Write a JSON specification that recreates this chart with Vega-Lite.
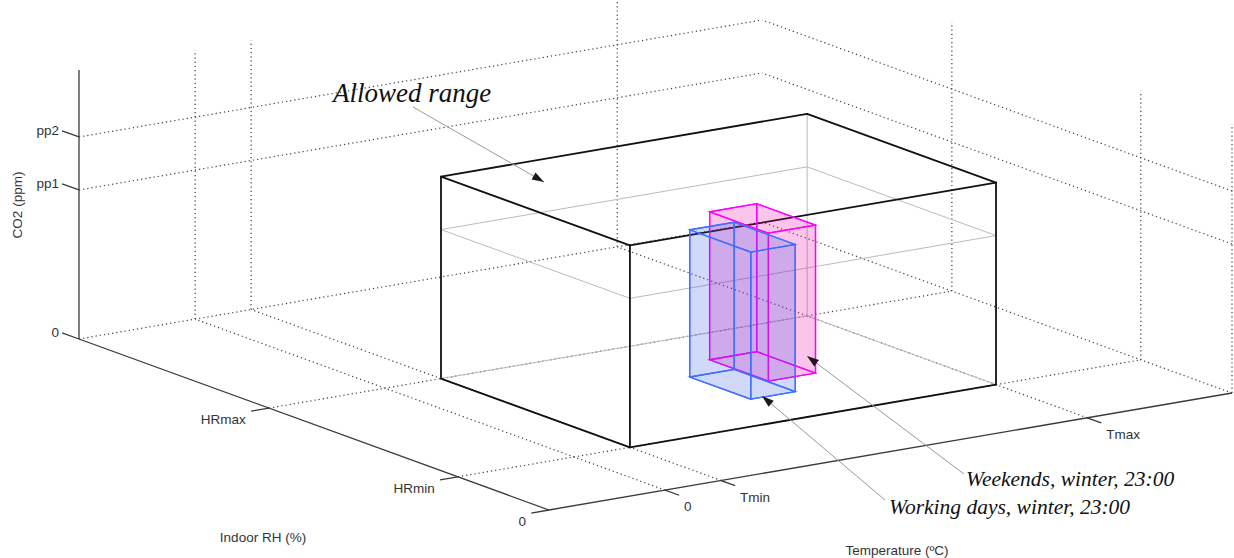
{
  "$schema": "https://vega.github.io/schema/vega-lite/v6.json",
  "width": 1234,
  "height": 558,
  "padding": 0,
  "autosize": {"type": "none"},
  "background": "white",
  "view": {"stroke": null},
  "datasets": {
    "segments": [
      {"k":"grid","t1":0.17,"r1":1,"z1":0,"t2":0.17,"r2":1,"z2":1},
      {"k":"grid","t1":0.252,"r1":1,"z1":0,"t2":0.252,"r2":1,"z2":1},
      {"k":"grid","t1":0.788,"r1":1,"z1":0,"t2":0.788,"r2":1,"z2":1},
      {"k":"grid","t1":0,"r1":1,"z1":0,"t2":1,"r2":1,"z2":0},
      {"k":"grid","t1":0,"r1":1,"z1":0.554,"t2":1,"r2":1,"z2":0.554},
      {"k":"grid","t1":0,"r1":1,"z1":0.751,"t2":1,"r2":1,"z2":0.751},
      {"k":"grid","t1":1,"r1":0,"z1":0,"t2":1,"r2":0,"z2":1},
      {"k":"grid","t1":1,"r1":0.194,"z1":0,"t2":1,"r2":0.194,"z2":1},
      {"k":"grid","t1":1,"r1":0.596,"z1":0,"t2":1,"r2":0.596,"z2":1},
      {"k":"grid","t1":1,"r1":0,"z1":0,"t2":1,"r2":1,"z2":0},
      {"k":"grid","t1":1,"r1":0,"z1":0.554,"t2":1,"r2":1,"z2":0.554},
      {"k":"grid","t1":1,"r1":0,"z1":0.751,"t2":1,"r2":1,"z2":0.751},
      {"k":"grid","t1":0.17,"r1":0,"z1":0,"t2":0.17,"r2":1,"z2":0},
      {"k":"grid","t1":0.252,"r1":0,"z1":0,"t2":0.252,"r2":1,"z2":0},
      {"k":"grid","t1":0.788,"r1":0,"z1":0,"t2":0.788,"r2":1,"z2":0},
      {"k":"grid","t1":0,"r1":0.194,"z1":0,"t2":1,"r2":0.194,"z2":0},
      {"k":"grid","t1":0,"r1":0.596,"z1":0,"t2":1,"r2":0.596,"z2":0},
      {"k":"axis","t1":0,"r1":1,"z1":0,"t2":0,"r2":1,"z2":1},
      {"k":"axis","t1":0,"r1":0,"z1":0,"t2":0,"r2":1,"z2":0},
      {"k":"axis","t1":0,"r1":0,"z1":0,"t2":1,"r2":0,"z2":0},
      {"k":"axis","t1":0,"r1":1,"z1":0,"t2":0,"r2":1.036,"z2":0},
      {"k":"axis","t1":0,"r1":1,"z1":0.554,"t2":0,"r2":1.036,"z2":0.554},
      {"k":"axis","t1":0,"r1":1,"z1":0.751,"t2":0,"r2":1.036,"z2":0.751},
      {"k":"axis","t1":0,"r1":0,"z1":0,"t2":-0.026,"r2":0,"z2":0},
      {"k":"axis","t1":0,"r1":0.194,"z1":0,"t2":-0.026,"r2":0.194,"z2":0},
      {"k":"axis","t1":0,"r1":0.596,"z1":0,"t2":-0.026,"r2":0.596,"z2":0},
      {"k":"axis","t1":0.17,"r1":0,"z1":0,"t2":0.17,"r2":-0.03,"z2":0},
      {"k":"axis","t1":0.252,"r1":0,"z1":0,"t2":0.252,"r2":-0.03,"z2":0},
      {"k":"axis","t1":0.788,"r1":0,"z1":0,"t2":0.788,"r2":-0.03,"z2":0},
      {"k":"hidden","t1":0.788,"r1":0.596,"z1":0,"t2":0.788,"r2":0.596,"z2":0.751},
      {"k":"hidden","t1":0.252,"r1":0.596,"z1":0,"t2":0.788,"r2":0.596,"z2":0},
      {"k":"hidden","t1":0.788,"r1":0.596,"z1":0,"t2":0.788,"r2":0.194,"z2":0},
      {"k":"hidden","t1":0.252,"r1":0.194,"z1":0.554,"t2":0.788,"r2":0.194,"z2":0.554},
      {"k":"hidden","t1":0.788,"r1":0.194,"z1":0.554,"t2":0.788,"r2":0.596,"z2":0.554},
      {"k":"hidden","t1":0.788,"r1":0.596,"z1":0.554,"t2":0.252,"r2":0.596,"z2":0.554},
      {"k":"hidden","t1":0.252,"r1":0.596,"z1":0.554,"t2":0.252,"r2":0.194,"z2":0.554},
      {"k":"edge","t1":0.252,"r1":0.194,"z1":0.751,"t2":0.788,"r2":0.194,"z2":0.751},
      {"k":"edge","t1":0.788,"r1":0.194,"z1":0.751,"t2":0.788,"r2":0.596,"z2":0.751},
      {"k":"edge","t1":0.788,"r1":0.596,"z1":0.751,"t2":0.252,"r2":0.596,"z2":0.751},
      {"k":"edge","t1":0.252,"r1":0.596,"z1":0.751,"t2":0.252,"r2":0.194,"z2":0.751},
      {"k":"edge","t1":0.252,"r1":0.596,"z1":0,"t2":0.252,"r2":0.596,"z2":0.751},
      {"k":"edge","t1":0.252,"r1":0.194,"z1":0,"t2":0.252,"r2":0.194,"z2":0.751},
      {"k":"edge","t1":0.788,"r1":0.194,"z1":0,"t2":0.788,"r2":0.194,"z2":0.751},
      {"k":"edge","t1":0.252,"r1":0.596,"z1":0,"t2":0.252,"r2":0.194,"z2":0},
      {"k":"edge","t1":0.252,"r1":0.194,"z1":0,"t2":0.788,"r2":0.194,"z2":0}
    ],
    "faces": [
      {"box":"weekends","face":"w_bottom","v":0,"t":0.571,"r":0.363,"z":0},
      {"box":"weekends","face":"w_bottom","v":1,"t":0.640,"r":0.363,"z":0},
      {"box":"weekends","face":"w_bottom","v":2,"t":0.640,"r":0.488,"z":0},
      {"box":"weekends","face":"w_bottom","v":3,"t":0.571,"r":0.488,"z":0},
      {"box":"weekends","face":"w_top","v":0,"t":0.571,"r":0.363,"z":0.55},
      {"box":"weekends","face":"w_top","v":1,"t":0.640,"r":0.363,"z":0.55},
      {"box":"weekends","face":"w_top","v":2,"t":0.640,"r":0.488,"z":0.55},
      {"box":"weekends","face":"w_top","v":3,"t":0.571,"r":0.488,"z":0.55},
      {"box":"weekends","face":"w_front","v":0,"t":0.571,"r":0.363,"z":0},
      {"box":"weekends","face":"w_front","v":1,"t":0.640,"r":0.363,"z":0},
      {"box":"weekends","face":"w_front","v":2,"t":0.640,"r":0.363,"z":0.55},
      {"box":"weekends","face":"w_front","v":3,"t":0.571,"r":0.363,"z":0.55},
      {"box":"weekends","face":"w_back","v":0,"t":0.571,"r":0.488,"z":0},
      {"box":"weekends","face":"w_back","v":1,"t":0.640,"r":0.488,"z":0},
      {"box":"weekends","face":"w_back","v":2,"t":0.640,"r":0.488,"z":0.55},
      {"box":"weekends","face":"w_back","v":3,"t":0.571,"r":0.488,"z":0.55},
      {"box":"weekends","face":"w_left","v":0,"t":0.571,"r":0.363,"z":0},
      {"box":"weekends","face":"w_left","v":1,"t":0.571,"r":0.488,"z":0},
      {"box":"weekends","face":"w_left","v":2,"t":0.571,"r":0.488,"z":0.55},
      {"box":"weekends","face":"w_left","v":3,"t":0.571,"r":0.363,"z":0.55},
      {"box":"weekends","face":"w_right","v":0,"t":0.640,"r":0.363,"z":0},
      {"box":"weekends","face":"w_right","v":1,"t":0.640,"r":0.488,"z":0},
      {"box":"weekends","face":"w_right","v":2,"t":0.640,"r":0.488,"z":0.55},
      {"box":"weekends","face":"w_right","v":3,"t":0.640,"r":0.363,"z":0.55},
      {"box":"working","face":"k_bottom","v":0,"t":0.504,"r":0.303,"z":0},
      {"box":"working","face":"k_bottom","v":1,"t":0.569,"r":0.303,"z":0},
      {"box":"working","face":"k_bottom","v":2,"t":0.569,"r":0.433,"z":0},
      {"box":"working","face":"k_bottom","v":3,"t":0.504,"r":0.433,"z":0},
      {"box":"working","face":"k_top","v":0,"t":0.504,"r":0.303,"z":0.547},
      {"box":"working","face":"k_top","v":1,"t":0.569,"r":0.303,"z":0.547},
      {"box":"working","face":"k_top","v":2,"t":0.569,"r":0.433,"z":0.547},
      {"box":"working","face":"k_top","v":3,"t":0.504,"r":0.433,"z":0.547},
      {"box":"working","face":"k_front","v":0,"t":0.504,"r":0.303,"z":0},
      {"box":"working","face":"k_front","v":1,"t":0.569,"r":0.303,"z":0},
      {"box":"working","face":"k_front","v":2,"t":0.569,"r":0.303,"z":0.547},
      {"box":"working","face":"k_front","v":3,"t":0.504,"r":0.303,"z":0.547},
      {"box":"working","face":"k_back","v":0,"t":0.504,"r":0.433,"z":0},
      {"box":"working","face":"k_back","v":1,"t":0.569,"r":0.433,"z":0},
      {"box":"working","face":"k_back","v":2,"t":0.569,"r":0.433,"z":0.547},
      {"box":"working","face":"k_back","v":3,"t":0.504,"r":0.433,"z":0.547},
      {"box":"working","face":"k_left","v":0,"t":0.504,"r":0.303,"z":0},
      {"box":"working","face":"k_left","v":1,"t":0.504,"r":0.433,"z":0},
      {"box":"working","face":"k_left","v":2,"t":0.504,"r":0.433,"z":0.547},
      {"box":"working","face":"k_left","v":3,"t":0.504,"r":0.303,"z":0.547},
      {"box":"working","face":"k_right","v":0,"t":0.569,"r":0.303,"z":0},
      {"box":"working","face":"k_right","v":1,"t":0.569,"r":0.433,"z":0},
      {"box":"working","face":"k_right","v":2,"t":0.569,"r":0.433,"z":0.547},
      {"box":"working","face":"k_right","v":3,"t":0.569,"r":0.303,"z":0.547}
    ],
    "ticklabels": [
      {"axis":"z","label":"pp2","t":0,"r":1,"z":0.751},
      {"axis":"z","label":"pp1","t":0,"r":1,"z":0.554},
      {"axis":"z","label":"0","t":0,"r":1,"z":0},
      {"axis":"rh","label":"HRmax","t":0,"r":0.596,"z":0},
      {"axis":"rh","label":"HRmin","t":0,"r":0.194,"z":0},
      {"axis":"rh","label":"0","t":0,"r":0,"z":0},
      {"axis":"t","label":"0","t":0.17,"r":0,"z":0},
      {"axis":"t","label":"Tmin","t":0.252,"r":0,"z":0},
      {"axis":"t","label":"Tmax","t":0.788,"r":0,"z":0}
    ],
    "titles": [
      {"label":"CO2 (ppm)","x":-531,"y":305,"rot":270},
      {"label":"Indoor RH (%)","x":-286,"y":-28,"rot":0},
      {"label":"Temperature (ºC)","x":348,"y":-41,"rot":0}
    ],
    "notes": [
      {"label":"Allowed range","size":"big","x":-216,"y":408,"ax1":-136,"ay1":403,"ax2":-5,"ay2":328},
      {"label":"Weekends, winter, 23:00","size":"small","x":417,"y":24,"ax1":415,"ay1":36,"ax2":258,"ay2":154},
      {"label":"Working days, winter, 23:00","size":"small","x":340,"y":-4,"ax1":336,"ay1":10,"ax2":213,"ay2":114}
    ]
  },
  "layer": [
    {
      "data": {"name": "segments"},
      "transform": [
        {"filter": "datum.k === 'grid'"},
        {"calculate": "683*datum.t1 - 470*datum.r1", "as": "X1"},
        {"calculate": "117*datum.t1 + 171*datum.r1 + 269*datum.z1", "as": "Y1"},
        {"calculate": "683*datum.t2 - 470*datum.r2", "as": "X2"},
        {"calculate": "117*datum.t2 + 171*datum.r2 + 269*datum.z2", "as": "Y2"}
      ],
      "mark": {"type": "rule", "stroke": "#3c3c3c", "strokeWidth": 1.2, "strokeDash": [1.2, 3], "clip": true},
      "encoding": {
        "x": {"field": "X1", "type": "quantitative", "scale": {"domain": [-549, 685], "nice": false, "zero": false}, "axis": null},
        "x2": {"field": "X2"},
        "y": {"field": "Y1", "type": "quantitative", "scale": {"domain": [-48, 510], "nice": false, "zero": false}, "axis": null},
        "y2": {"field": "Y2"}
      }
    },
    {
      "data": {"name": "segments"},
      "transform": [
        {"filter": "datum.k === 'axis'"},
        {"calculate": "683*datum.t1 - 470*datum.r1", "as": "X1"},
        {"calculate": "117*datum.t1 + 171*datum.r1 + 269*datum.z1", "as": "Y1"},
        {"calculate": "683*datum.t2 - 470*datum.r2", "as": "X2"},
        {"calculate": "117*datum.t2 + 171*datum.r2 + 269*datum.z2", "as": "Y2"}
      ],
      "mark": {"type": "rule", "stroke": "#3a3a3a", "strokeWidth": 1.3},
      "encoding": {
        "x": {"field": "X1", "type": "quantitative", "scale": {"domain": [-549, 685], "nice": false, "zero": false}, "axis": null},
        "x2": {"field": "X2"},
        "y": {"field": "Y1", "type": "quantitative", "scale": {"domain": [-48, 510], "nice": false, "zero": false}, "axis": null},
        "y2": {"field": "Y2"}
      }
    },
    {
      "data": {"name": "segments"},
      "transform": [
        {"filter": "datum.k === 'hidden'"},
        {"calculate": "683*datum.t1 - 470*datum.r1", "as": "X1"},
        {"calculate": "117*datum.t1 + 171*datum.r1 + 269*datum.z1", "as": "Y1"},
        {"calculate": "683*datum.t2 - 470*datum.r2", "as": "X2"},
        {"calculate": "117*datum.t2 + 171*datum.r2 + 269*datum.z2", "as": "Y2"}
      ],
      "mark": {"type": "rule", "stroke": "#bbbbbb", "strokeWidth": 1},
      "encoding": {
        "x": {"field": "X1", "type": "quantitative", "scale": {"domain": [-549, 685], "nice": false, "zero": false}, "axis": null},
        "x2": {"field": "X2"},
        "y": {"field": "Y1", "type": "quantitative", "scale": {"domain": [-48, 510], "nice": false, "zero": false}, "axis": null},
        "y2": {"field": "Y2"}
      }
    },
    {
      "data": {"name": "segments"},
      "transform": [
        {"filter": "datum.k === 'edge'"},
        {"calculate": "683*datum.t1 - 470*datum.r1", "as": "X1"},
        {"calculate": "117*datum.t1 + 171*datum.r1 + 269*datum.z1", "as": "Y1"},
        {"calculate": "683*datum.t2 - 470*datum.r2", "as": "X2"},
        {"calculate": "117*datum.t2 + 171*datum.r2 + 269*datum.z2", "as": "Y2"}
      ],
      "mark": {"type": "rule", "stroke": "#111111", "strokeWidth": 1.8, "strokeCap": "round"},
      "encoding": {
        "x": {"field": "X1", "type": "quantitative", "scale": {"domain": [-549, 685], "nice": false, "zero": false}, "axis": null},
        "x2": {"field": "X2"},
        "y": {"field": "Y1", "type": "quantitative", "scale": {"domain": [-48, 510], "nice": false, "zero": false}, "axis": null},
        "y2": {"field": "Y2"}
      }
    },
    {
      "data": {"name": "faces"},
      "transform": [
        {"filter": "datum.box === 'weekends'"},
        {"calculate": "683*datum.t - 470*datum.r", "as": "X"},
        {"calculate": "117*datum.t + 171*datum.r + 269*datum.z", "as": "Y"}
      ],
      "mark": {"type": "line", "interpolate": "linear-closed", "fill": "#ef00a3", "fillOpacity": 0.12, "stroke": "#ff00ff", "strokeWidth": 1.3},
      "encoding": {
        "x": {"field": "X", "type": "quantitative", "scale": {"domain": [-549, 685], "nice": false, "zero": false}, "axis": null},
        "y": {"field": "Y", "type": "quantitative", "scale": {"domain": [-48, 510], "nice": false, "zero": false}, "axis": null},
        "detail": {"field": "face"},
        "order": {"field": "v"}
      }
    },
    {
      "data": {"name": "faces"},
      "transform": [
        {"filter": "datum.box === 'working'"},
        {"calculate": "683*datum.t - 470*datum.r", "as": "X"},
        {"calculate": "117*datum.t + 171*datum.r + 269*datum.z", "as": "Y"}
      ],
      "mark": {"type": "line", "interpolate": "linear-closed", "fill": "#2a4ff0", "fillOpacity": 0.115, "stroke": "#4070ff", "strokeWidth": 1.3},
      "encoding": {
        "x": {"field": "X", "type": "quantitative", "scale": {"domain": [-549, 685], "nice": false, "zero": false}, "axis": null},
        "y": {"field": "Y", "type": "quantitative", "scale": {"domain": [-48, 510], "nice": false, "zero": false}, "axis": null},
        "detail": {"field": "face"},
        "order": {"field": "v"}
      }
    },
    {
      "data": {"name": "ticklabels"},
      "transform": [
        {"filter": "datum.axis === 'z'"},
        {"calculate": "683*datum.t - 470*datum.r", "as": "X"},
        {"calculate": "117*datum.t + 171*datum.r + 269*datum.z", "as": "Y"}
      ],
      "mark": {"type": "text", "font": "Liberation Sans", "fontSize": 13.5, "fill": "#333333", "align": "right", "baseline": "middle", "dx": -20, "dy": -6},
      "encoding": {
        "x": {"field": "X", "type": "quantitative", "scale": {"domain": [-549, 685], "nice": false, "zero": false}, "axis": null},
        "y": {"field": "Y", "type": "quantitative", "scale": {"domain": [-48, 510], "nice": false, "zero": false}, "axis": null},
        "text": {"field": "label"}
      }
    },
    {
      "data": {"name": "ticklabels"},
      "transform": [
        {"filter": "datum.axis === 'rh'"},
        {"calculate": "683*datum.t - 470*datum.r", "as": "X"},
        {"calculate": "117*datum.t + 171*datum.r + 269*datum.z", "as": "Y"}
      ],
      "mark": {"type": "text", "font": "Liberation Sans", "fontSize": 13.5, "fill": "#333333", "align": "right", "baseline": "middle", "dx": -23, "dy": 12},
      "encoding": {
        "x": {"field": "X", "type": "quantitative", "scale": {"domain": [-549, 685], "nice": false, "zero": false}, "axis": null},
        "y": {"field": "Y", "type": "quantitative", "scale": {"domain": [-48, 510], "nice": false, "zero": false}, "axis": null},
        "text": {"field": "label"}
      }
    },
    {
      "data": {"name": "ticklabels"},
      "transform": [
        {"filter": "datum.axis === 't'"},
        {"calculate": "683*datum.t - 470*datum.r", "as": "X"},
        {"calculate": "117*datum.t + 171*datum.r + 269*datum.z", "as": "Y"}
      ],
      "mark": {"type": "text", "font": "Liberation Sans", "fontSize": 13.5, "fill": "#333333", "align": "left", "baseline": "middle", "dx": 19, "dy": 17},
      "encoding": {
        "x": {"field": "X", "type": "quantitative", "scale": {"domain": [-549, 685], "nice": false, "zero": false}, "axis": null},
        "y": {"field": "Y", "type": "quantitative", "scale": {"domain": [-48, 510], "nice": false, "zero": false}, "axis": null},
        "text": {"field": "label"}
      }
    },
    {
      "data": {"name": "titles"},
      "mark": {"type": "text", "font": "Liberation Sans", "fontSize": 13.5, "fill": "#333333", "align": "center", "baseline": "middle"},
      "encoding": {
        "x": {"field": "x", "type": "quantitative", "scale": {"domain": [-549, 685], "nice": false, "zero": false}, "axis": null},
        "y": {"field": "y", "type": "quantitative", "scale": {"domain": [-48, 510], "nice": false, "zero": false}, "axis": null},
        "text": {"field": "label"},
        "angle": {"field": "rot", "type": "quantitative", "scale": null}
      }
    },
    {
      "data": {"name": "notes"},
      "mark": {"type": "rule", "stroke": "#999999", "strokeWidth": 1},
      "encoding": {
        "x": {"field": "ax1", "type": "quantitative", "scale": {"domain": [-549, 685], "nice": false, "zero": false}, "axis": null},
        "x2": {"field": "ax2"},
        "y": {"field": "ay1", "type": "quantitative", "scale": {"domain": [-48, 510], "nice": false, "zero": false}, "axis": null},
        "y2": {"field": "ay2"}
      }
    },
    {
      "data": {"name": "notes"},
      "transform": [
        {"calculate": "atan2(datum.ax2 - datum.ax1, datum.ay2 - datum.ay1) * 180 / PI", "as": "ang"}
      ],
      "mark": {"type": "point", "shape": "M0,0L0.5,1.5L-0.5,1.5Z", "filled": true, "fill": "#1a1a1a", "stroke": null, "opacity": 1, "size": 256},
      "encoding": {
        "x": {"field": "ax2", "type": "quantitative", "scale": {"domain": [-549, 685], "nice": false, "zero": false}, "axis": null},
        "y": {"field": "ay2", "type": "quantitative", "scale": {"domain": [-48, 510], "nice": false, "zero": false}, "axis": null},
        "angle": {"field": "ang", "type": "quantitative", "scale": null}
      }
    },
    {
      "data": {"name": "notes"},
      "transform": [{"filter": "datum.size === 'big'"}],
      "mark": {"type": "text", "font": "Liberation Serif", "fontStyle": "italic", "fontSize": 27, "fill": "#111111", "align": "left", "baseline": "alphabetic"},
      "encoding": {
        "x": {"field": "x", "type": "quantitative", "scale": {"domain": [-549, 685], "nice": false, "zero": false}, "axis": null},
        "y": {"field": "y", "type": "quantitative", "scale": {"domain": [-48, 510], "nice": false, "zero": false}, "axis": null},
        "text": {"field": "label"}
      }
    },
    {
      "data": {"name": "notes"},
      "transform": [{"filter": "datum.size === 'small'"}],
      "mark": {"type": "text", "font": "Liberation Serif", "fontStyle": "italic", "fontSize": 21.5, "fill": "#111111", "align": "left", "baseline": "alphabetic"},
      "encoding": {
        "x": {"field": "x", "type": "quantitative", "scale": {"domain": [-549, 685], "nice": false, "zero": false}, "axis": null},
        "y": {"field": "y", "type": "quantitative", "scale": {"domain": [-48, 510], "nice": false, "zero": false}, "axis": null},
        "text": {"field": "label"}
      }
    }
  ]
}
